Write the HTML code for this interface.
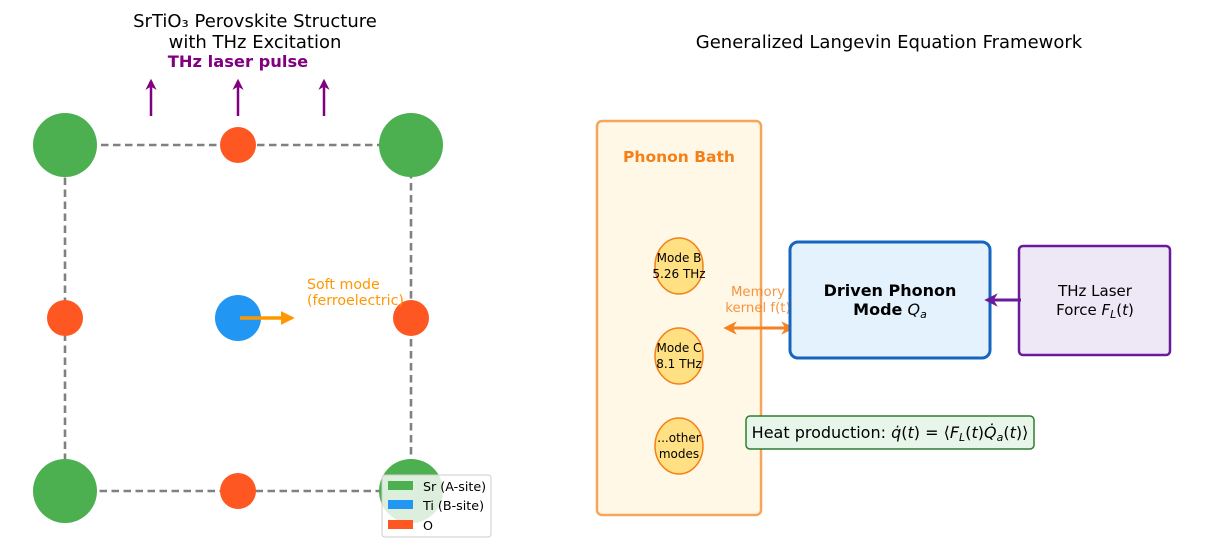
<!DOCTYPE html>
<html><head><meta charset="utf-8"><style>
html,body{margin:0;padding:0;background:#fff;}
svg{display:block;font-family:"DejaVu Sans","Liberation Sans",sans-serif;}
</style></head><body>
<svg width="1208" height="556" viewBox="0 0 1208 556" xmlns="http://www.w3.org/2000/svg">
<defs>
<marker id="pa" viewBox="0 0 10 10" refX="8" refY="5" markerWidth="4.5" markerHeight="4.5" orient="auto"><path d="M0,0 L10,5 L0,10 L3,5 z" fill="#800080"/></marker>
<marker id="oa" viewBox="0 0 10 10" refX="8" refY="5" markerWidth="4" markerHeight="4" orient="auto"><path d="M0,0 L10,5 L0,10 z" fill="#ff9800"/></marker>
<marker id="ob" viewBox="0 0 10 10" refX="8" refY="5" markerWidth="4.5" markerHeight="4.5" orient="auto-start-reverse"><path d="M0,0 L10,5 L0,10 L3,5 z" fill="#f58220"/></marker>
<marker id="va" viewBox="0 0 10 10" refX="8" refY="5" markerWidth="4.5" markerHeight="4.5" orient="auto"><path d="M0,0 L10,5 L0,10 L3,5 z" fill="#6a1b9a"/></marker>
</defs>
<text x="255" y="27" font-size="18" text-anchor="middle">SrTiO₃ Perovskite Structure</text>
<text x="255" y="48" font-size="18" text-anchor="middle">with THz Excitation</text>
<text x="238" y="67" font-size="16.3" font-weight="bold" fill="#800080" text-anchor="middle">THz laser pulse</text>
<text x="889" y="48" font-size="18" text-anchor="middle">Generalized Langevin Equation Framework</text>
<g stroke="#800080" stroke-width="2.5" marker-end="url(#pa)">
<line x1="151" y1="116" x2="151" y2="81"/><line x1="238" y1="116" x2="238" y2="81"/><line x1="324" y1="116" x2="324" y2="81"/>
</g>
<rect x="65" y="145" width="346" height="346" stroke="#808080" stroke-width="2.6" stroke-dasharray="7.5,4.5" fill="none"/>
<g fill="#4caf50"><circle cx="65" cy="145" r="32"/><circle cx="411" cy="145" r="32"/><circle cx="65" cy="491" r="32"/><circle cx="411" cy="491" r="32"/></g>
<g fill="#ff5722"><circle cx="238" cy="145" r="18"/><circle cx="65" cy="318" r="18"/><circle cx="411" cy="318" r="18"/><circle cx="238" cy="491" r="18"/></g>
<circle cx="238" cy="318" r="23" fill="#2196f3"/>
<line x1="240" y1="318" x2="292" y2="318" stroke="#ff9800" stroke-width="3.5" marker-end="url(#oa)"/>
<text x="307" y="289" font-size="14.2" fill="#ff9800">Soft mode</text>
<text x="307" y="305" font-size="14.2" fill="#ff9800">(ferroelectric)</text>
<rect x="382" y="475" width="109" height="62" rx="3" fill="#fff" fill-opacity="0.8" stroke="#ccc"/>
<rect x="388" y="481" width="25" height="9" fill="#4caf50"/>
<rect x="388" y="500" width="25" height="9" fill="#2196f3"/>
<rect x="388" y="520" width="25" height="9" fill="#ff5722"/>
<text x="423" y="491" font-size="12.7">Sr (A-site)</text>
<text x="423" y="510" font-size="12.7">Ti (B-site)</text>
<text x="423" y="530" font-size="12.7">O</text>
<rect x="597" y="121" width="164" height="394" rx="5" fill="#fff8e7" stroke="#f6a55a" stroke-width="2.5"/>
<text x="679" y="162" font-size="15.5" font-weight="bold" fill="#f57f17" text-anchor="middle">Phonon Bath</text>
<g fill="#ffe082" stroke="#f57f17" stroke-width="1.5">
<ellipse cx="679" cy="266" rx="24" ry="28"/><ellipse cx="679" cy="356" rx="24" ry="28"/><ellipse cx="679" cy="446" rx="24" ry="28"/>
</g>
<g font-size="12" text-anchor="middle">
<text x="679" y="262">Mode B</text><text x="679" y="278">5.26 THz</text>
<text x="679" y="352">Mode C</text><text x="679" y="368">8.1 THz</text>
<text x="679" y="442">...other</text><text x="679" y="458">modes</text>
</g>
<line x1="726" y1="328" x2="792" y2="328" stroke="#f58220" stroke-width="3" marker-start="url(#ob)" marker-end="url(#ob)"/>
<text x="758" y="296" font-size="13.3" fill="#f58220" text-anchor="middle" fill-opacity="0.85">Memory</text>
<text x="758" y="312" font-size="13.3" fill="#f58220" text-anchor="middle" fill-opacity="0.85">kernel f(t)</text>
<rect x="790" y="242" width="200" height="116" rx="8" fill="#e3f2fd" stroke="#1565c0" stroke-width="3"/>
<text x="890" y="296" font-size="16" font-weight="bold" text-anchor="middle">Driven Phonon</text>
<text x="890" y="315" font-size="16" text-anchor="middle"><tspan font-weight="bold">Mode</tspan>  <tspan font-style="italic">Q</tspan><tspan font-style="italic" font-size="11" dy="3">a</tspan></text>
<rect x="1019" y="246" width="151" height="109" rx="4" fill="#ede7f6" stroke="#6a1b9a" stroke-width="2.5"/>
<text x="1095" y="296" font-size="15" text-anchor="middle">THz Laser</text>
<text x="1095" y="315" font-size="15" text-anchor="middle">Force <tspan font-style="italic">F</tspan><tspan font-style="italic" font-size="11" dy="3">L</tspan><tspan dy="-3">(</tspan><tspan font-style="italic">t</tspan>)</text>
<line x1="1021" y1="300" x2="987" y2="300" stroke="#6a1b9a" stroke-width="3" marker-end="url(#va)"/>
<rect x="746" y="416" width="288" height="33" rx="4" fill="#e8f5e9" stroke="#2e7d32" stroke-width="1.5"/>
<text x="890" y="438" font-size="16" text-anchor="middle">Heat production: <tspan font-style="italic">q̇</tspan>(<tspan font-style="italic">t</tspan>) = ⟨<tspan font-style="italic">F</tspan><tspan font-style="italic" font-size="11" dy="3">L</tspan><tspan dy="-3">(</tspan><tspan font-style="italic">t</tspan>)<tspan font-style="italic">Q̇</tspan><tspan font-style="italic" font-size="11" dy="3">a</tspan><tspan dy="-3">(</tspan><tspan font-style="italic">t</tspan>)⟩</text>
</svg>
</body></html>
